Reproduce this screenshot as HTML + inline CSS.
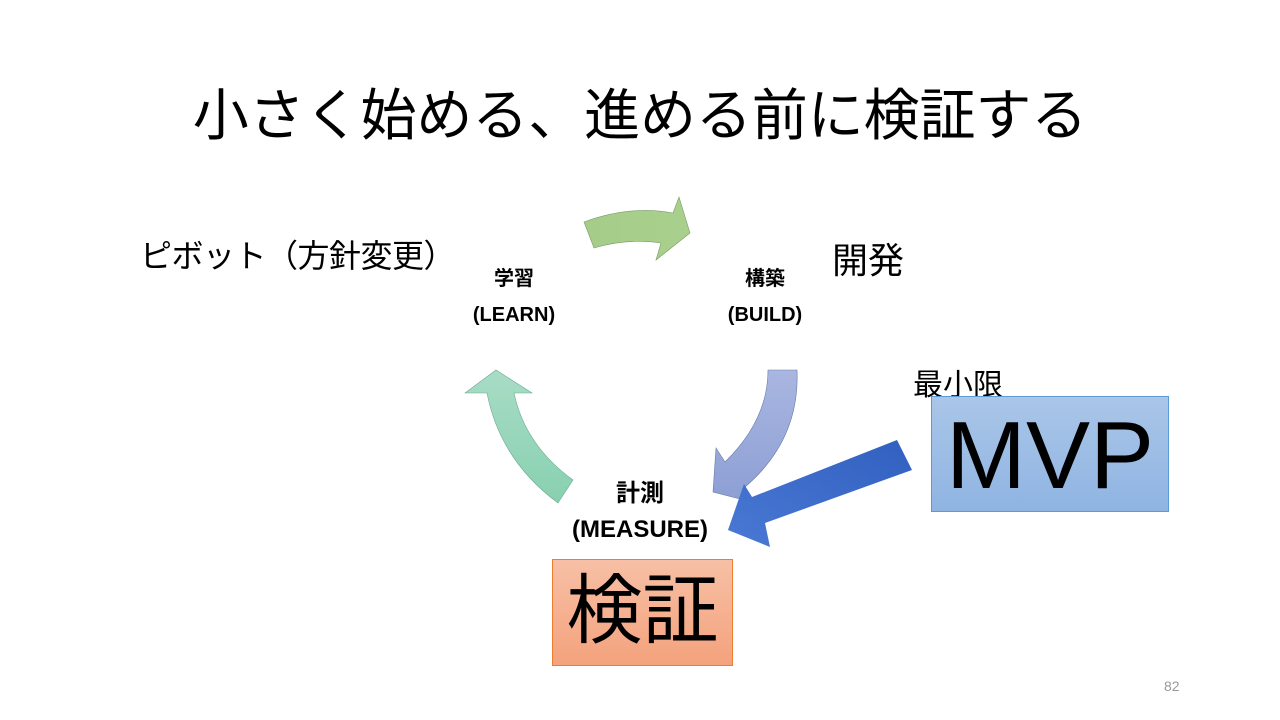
<!DOCTYPE html>
<html><head><meta charset="utf-8"><style>
body{margin:0;width:1280px;height:720px;background:#fff;position:relative;overflow:hidden;font-family:"Liberation Sans","Noto Sans CJK JP",sans-serif;}
.t{position:absolute;white-space:nowrap;color:#000;}
.c{text-align:center;}
</style></head><body>
<div class="t" style="left:0;width:1280px;top:71px;font-size:56px;text-align:center;letter-spacing:-0.1px;">小さく始める、進める前に検証する</div>
<div class="t" style="left:140px;top:231px;font-size:32px;letter-spacing:-0.5px;">ピボット（方針変更）</div>
<div class="t" style="left:832px;top:232px;font-size:36px;">開発</div>
<div class="t" style="left:913px;top:360px;font-size:30px;">最小限</div>
<div class="t c" style="left:454px;width:120px;top:261px;font-size:20px;font-weight:bold;line-height:36px;">学習<br>(LEARN)</div>
<div class="t c" style="left:705px;width:120px;top:261px;font-size:20px;font-weight:bold;line-height:36px;">構築<br>(BUILD)</div>
<div class="t c" style="left:550px;width:180px;top:476px;font-size:24px;font-weight:bold;line-height:36px;">計測<br>(MEASURE)</div>
<svg width="1280" height="720" style="position:absolute;left:0;top:0">
<defs>
<linearGradient id="g1" x1="0" y1="0" x2="1" y2="0"><stop offset="0" stop-color="#a6cc8a"/><stop offset="1" stop-color="#a8d08c"/></linearGradient>
<linearGradient id="g2" x1="0" y1="0" x2="0" y2="1"><stop offset="0" stop-color="#a9b6e0"/><stop offset="1" stop-color="#8c9fd4"/></linearGradient>
<linearGradient id="g3" x1="0" y1="0" x2="0" y2="1"><stop offset="0" stop-color="#a8dcc6"/><stop offset="1" stop-color="#88d0b0"/></linearGradient>
<linearGradient id="g4" x1="1" y1="0" x2="0" y2="1"><stop offset="0" stop-color="#3160c0"/><stop offset="1" stop-color="#4a78d4"/></linearGradient>
<linearGradient id="g5" x1="0" y1="0" x2="0" y2="1"><stop offset="0" stop-color="#f7c0a6"/><stop offset="1" stop-color="#f4a27c"/></linearGradient>
<linearGradient id="g6" x1="0" y1="0" x2="0" y2="1"><stop offset="0" stop-color="#aac6e8"/><stop offset="1" stop-color="#8fb4e2"/></linearGradient>
</defs>
<path d="M584,222 Q630,205 673,213 L679,197 L690,233 L656,260 L661,243 Q628,238 594,248 Z" fill="url(#g1)" stroke="#7a9a6a" stroke-width="0.6"/>
<path d="M768,370 L797,370 Q800,440 745,487 L752,502 L713,492 L716,448 L725,462 Q768,420 768,370 Z" fill="url(#g2)" stroke="#6a7aa8" stroke-width="0.6"/>
<path d="M465,393 L496,370 L532,393 L514,393 Q525,445 573,480 L558,503 Q500,460 487,393 Z" fill="url(#g3)" stroke="#6aa890" stroke-width="0.6"/>
<path d="M897,440 L912,470 L765,523 L770,547 L728,530 L744,484 L752,497 Z" fill="url(#g4)"/>
<rect x="552.5" y="559.5" width="180" height="106" fill="url(#g5)" stroke="#ed7d31" stroke-width="1"/>
<rect x="931.5" y="396.5" width="237" height="115" fill="url(#g6)" stroke="#5b9bd5" stroke-width="1"/>
</svg>
<div class="t c" style="left:552px;width:181px;top:564px;font-size:76px;line-height:96px;">検証</div>
<div class="t c" style="left:931px;width:238px;top:404px;font-size:96px;line-height:104px;">MVP</div>
<div class="t" style="left:1164px;top:678px;font-size:14px;color:#999;">82</div>
</body></html>
